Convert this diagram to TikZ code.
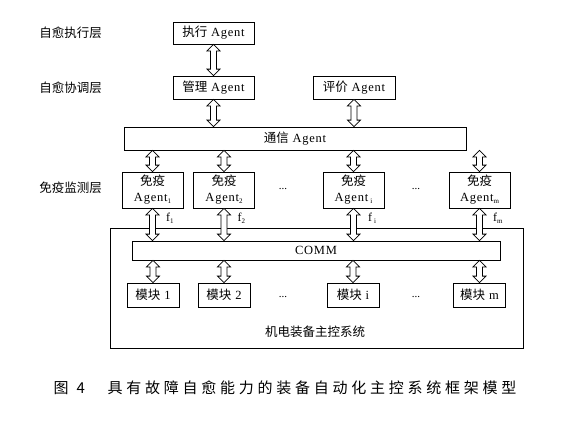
\documentclass[tikz,border=0pt]{standalone}
\usepackage{fontspec}
\setmainfont{Liberation Serif}
\newfontfamily\cjk{Noto Sans CJK SC}
\newfontfamily\cjkcap[LetterSpace=25]{Noto Sans CJK SC}
\newfontfamily\agfont[LetterSpace=6]{Liberation Serif}
\usetikzlibrary{calc}
\newcommand\sub[1]{\raisebox{-2pt}{\fontsize{7}{7}\selectfont #1}}
\newcommand\barrow[2]{%
  \path[arr] let \p1=(#1), \p2=(#2) in
  (\x1,\y1) -- (\x1+6.5pt,\y1-6.5pt) -- (\x1+3pt,\y1-6.5pt) -- (\x1+3pt,\y2+6.5pt)
  -- (\x1+6.5pt,\y2+6.5pt) -- (\x1,\y2) -- (\x1-6.5pt,\y2+6.5pt) -- (\x1-3pt,\y2+6.5pt)
  -- (\x1-3pt,\y1-6.5pt) -- (\x1-6.5pt,\y1-6.5pt) -- cycle;}
\begin{document}
\begin{tikzpicture}[x=1pt,y=-1pt,
  box/.style={draw, line width=0.8pt, inner sep=0pt, fill=white,
    font=\agfont\fontsize{12.5}{16}\selectfont, align=center},
  arr/.style={draw, line width=0.8pt, fill=white, line join=miter},
  layer/.style={font=\cjk\fontsize{12.5}{15}\selectfont},
  dots/.style={font=\fontsize{11}{11}\selectfont},
  flab/.style={font=\fontsize{12}{12}\selectfont, anchor=west}]
\useasboundingbox (0,0) rectangle (563,423);
% layer labels
\node[layer] (l1) at (70.5,33) {自愈执行层};
\node[layer] (l2) at (70.5,88) {自愈协调层};
\node[layer] (l3) at (70.5,188) {免疫监测层};
% top boxes
\node[box, minimum width=81, minimum height=22] (exec) at (213.5,33) {{\cjk 执行} Agent};
\node[box, minimum width=81, minimum height=23] (mgmt) at (213.5,87.5) {{\cjk 管理} Agent};
\node[box, minimum width=82, minimum height=23] (eval) at (354,87.5) {{\cjk 评价} Agent};
\node[box, minimum width=342, minimum height=23] (comm) at (295,138.5) {{\cjk 通信} Agent};
% immune agents
\node[box, minimum width=61, minimum height=36] (ag1) at (152.5,190) {{\cjk 免疫}\\Agent\sub{1}};
\node[box, minimum width=61, minimum height=36] (ag2) at (224,190) {{\cjk 免疫}\\Agent\sub{2}};
\node[box, minimum width=61, minimum height=36] (agi) at (353.5,190) {{\cjk 免疫}\\Agent\,\sub{i}};
\node[box, minimum width=61, minimum height=36] (agm) at (479.5,190) {{\cjk 免疫}\\Agent\sub{m}};
\node[dots] (d1) at (283,189) {...};
\node[dots] (d2) at (416,189) {...};
% system box
\node[draw, line width=0.8pt, minimum width=413, minimum height=120, inner sep=0pt] (sys) at (316.5,288) {};
\node[layer] (systxt) at (315,332) {机电装备主控系统};
\node[box, minimum width=368, minimum height=19] (bus) at (316,250.5) {COMM};
\node[box, minimum width=52, minimum height=24] (m1) at (153,295) {{\cjk 模块} 1};
\node[box, minimum width=52, minimum height=24] (m2) at (224,295) {{\cjk 模块} 2};
\node[box, minimum width=52, minimum height=24] (mi) at (353,295) {{\cjk 模块} i};
\node[box, minimum width=52, minimum height=24] (mm) at (479.5,295) {{\cjk 模块} m};
\node[dots] (d3) at (283,297) {...};
\node[dots] (d4) at (416,297) {...};
% arrows
\barrow{exec.south}{mgmt.north}
\barrow{mgmt.south}{mgmt.south |- comm.north}
\barrow{eval.south}{eval.south |- comm.north}
\foreach \a/\m in {ag1/m1, ag2/m2, agi/mi, agm/mm}{
  \barrow{\a.north |- comm.south}{\a.north}
  \barrow{\a.south}{\a.south |- bus.north}
  \barrow{\m.north |- bus.south}{\m.north}
}
% f labels
\node[flab] (f1) at ($(ag1.south)+(10,10)$) {f\sub{1}};
\node[flab] (f2) at ($(ag2.south)+(10,10)$) {f\sub{2}};
\node[flab] (fi) at ($(agi.south)+(11,10)$) {f\,\sub{i}};
\node[flab] (fm) at ($(agm.south)+(10,10)$) {f\sub{m}};
% caption
\node[anchor=west, font=\cjk\fontsize{15}{15}\selectfont] (capn) at (50,388) {图\hspace{8pt}4};
\node[anchor=west, font=\cjkcap\fontsize{15}{15}\selectfont] (cap) at (104,388) {具有故障自愈能力的装备自动化主控系统框架模型};
\end{tikzpicture}
\end{document}
